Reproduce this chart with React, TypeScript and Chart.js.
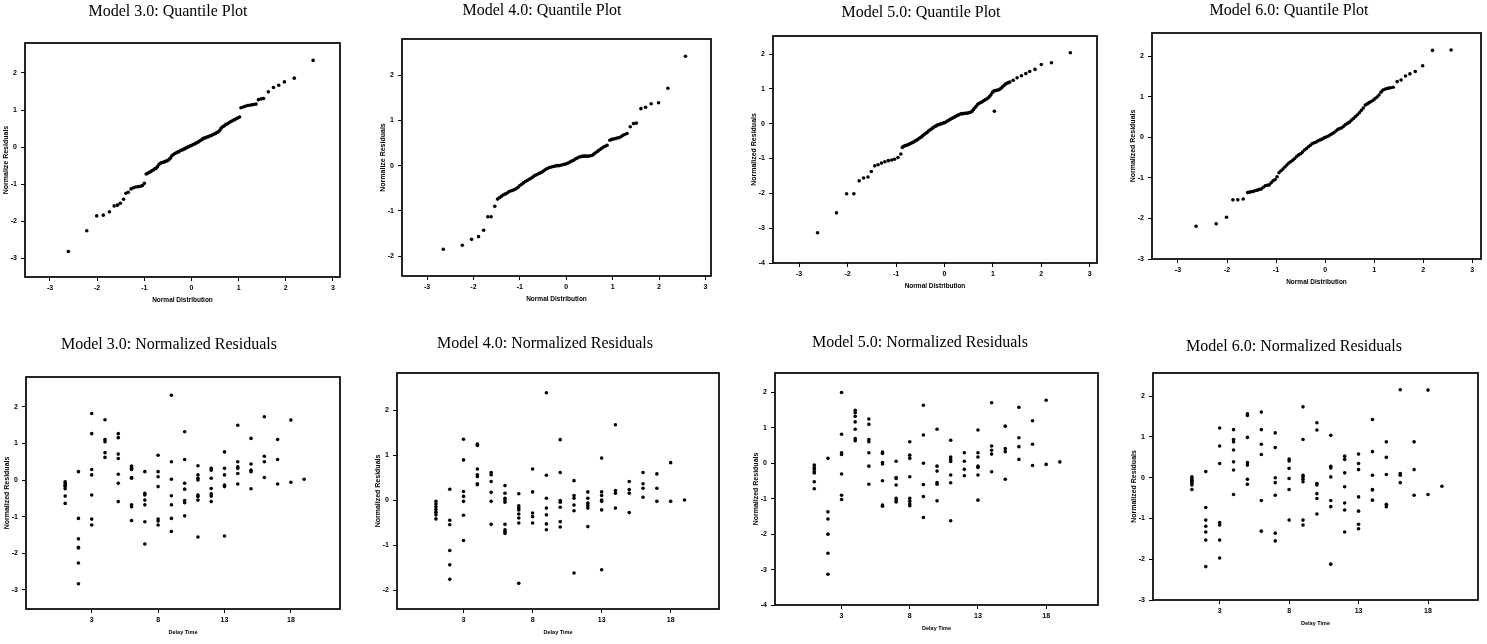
import React, { useEffect, useRef } from "react";
import { Chart, registerables } from "chart.js";

Chart.register(...registerables);

// ---------- DATA ----------
const qqXTicks = [-3, -2, -1, 0, 1, 2, 3];
const delayTicks = [3, 8, 13, 18];
const yTicks3 = [-3, -2, -1, 0, 1, 2];
const yTicks2 = [-2, -1, 0, 1, 2];
const yTicks4 = [-4, -3, -2, -1, 0, 1, 2];

const delayTimes = [1, 2, 3, 4, 5, 6, 7, 8, 9, 10, 11, 12, 13, 14, 15, 16, 17, 18, 19];

// Quantile plots: [normal quantile, normalized residual]
const qqModel3: number[][] = [
  [-2.61, -2.82], [-2.22, -2.26], [-2.01, -1.86], [-1.87, -1.84], [-1.74, -1.75], [-1.64, -1.59], [-1.57, -1.57],
  [-1.51, -1.52], [-1.44, -1.41], [-1.39, -1.25], [-1.34, -1.22], [-1.28, -1.13], [-1.23, -1.10], [-1.18, -1.08],
  [-1.13, -1.07], [-1.08, -1.06], [-1.04, -1.04], [-1.0, -0.98],
  [-0.96, -0.73], [-0.93, -0.71], [-0.9, -0.69], [-0.87, -0.67], [-0.84, -0.64], [-0.81, -0.62], [-0.78, -0.59],
  [-0.75, -0.57], [-0.72, -0.53], [-0.69, -0.47], [-0.66, -0.44], [-0.63, -0.42], [-0.6, -0.41], [-0.57, -0.4],
  [-0.54, -0.38], [-0.51, -0.37], [-0.48, -0.34], [-0.45, -0.3], [-0.42, -0.24], [-0.39, -0.21], [-0.36, -0.18],
  [-0.33, -0.16], [-0.3, -0.14], [-0.27, -0.13], [-0.24, -0.1], [-0.21, -0.08], [-0.18, -0.07], [-0.15, -0.05],
  [-0.12, -0.03], [-0.09, -0.01], [-0.06, 0.01], [-0.03, 0.03], [0.0, 0.04], [0.03, 0.06], [0.06, 0.08],
  [0.09, 0.1], [0.12, 0.12], [0.15, 0.14], [0.18, 0.17], [0.21, 0.19], [0.24, 0.22], [0.27, 0.24], [0.3, 0.25],
  [0.33, 0.27], [0.36, 0.28], [0.39, 0.3], [0.42, 0.31], [0.45, 0.33], [0.48, 0.35], [0.51, 0.37], [0.54, 0.39],
  [0.57, 0.41], [0.6, 0.45], [0.63, 0.51], [0.66, 0.55], [0.69, 0.57], [0.72, 0.6], [0.75, 0.62], [0.78, 0.64],
  [0.81, 0.67], [0.84, 0.69], [0.87, 0.71], [0.9, 0.73], [0.93, 0.75], [0.96, 0.77], [0.99, 0.79], [1.02, 0.81],
  [1.05, 1.06], [1.1, 1.08], [1.14, 1.1], [1.19, 1.12], [1.23, 1.13], [1.28, 1.14], [1.32, 1.15], [1.37, 1.16],
  [1.42, 1.28], [1.48, 1.3], [1.53, 1.31], [1.63, 1.49], [1.74, 1.61], [1.85, 1.67], [1.97, 1.76], [2.18, 1.86],
  [2.58, 2.34],
];

const qqModel4: number[][] = [
  [-2.65, -1.85], [-2.24, -1.76], [-2.04, -1.63], [-1.89, -1.57], [-1.78, -1.43], [-1.69, -1.13], [-1.62, -1.13],
  [-1.54, -0.9],
  [-1.48, -0.74], [-1.44, -0.71], [-1.4, -0.68], [-1.36, -0.65], [-1.32, -0.63], [-1.28, -0.61], [-1.24, -0.58],
  [-1.2, -0.56], [-1.16, -0.55], [-1.12, -0.53], [-1.08, -0.51], [-1.04, -0.48], [-1.0, -0.44], [-0.96, -0.41],
  [-0.92, -0.38], [-0.88, -0.35], [-0.84, -0.33], [-0.8, -0.3], [-0.76, -0.28], [-0.72, -0.25], [-0.68, -0.22],
  [-0.64, -0.2], [-0.6, -0.18], [-0.56, -0.16], [-0.52, -0.14], [-0.48, -0.11], [-0.44, -0.08], [-0.4, -0.06],
  [-0.36, -0.04], [-0.32, -0.03], [-0.28, -0.02], [-0.24, -0.01], [-0.2, 0.0], [-0.16, 0.0], [-0.12, 0.01],
  [-0.08, 0.02], [-0.04, 0.03], [0.0, 0.04], [0.04, 0.06], [0.08, 0.08], [0.12, 0.1], [0.16, 0.12], [0.2, 0.15],
  [0.24, 0.17], [0.28, 0.19], [0.32, 0.2], [0.36, 0.21], [0.4, 0.21], [0.44, 0.21], [0.48, 0.21], [0.52, 0.22],
  [0.56, 0.23], [0.6, 0.26], [0.64, 0.29], [0.68, 0.32], [0.72, 0.35], [0.76, 0.38], [0.8, 0.41], [0.84, 0.43],
  [0.88, 0.45], [0.94, 0.56], [0.98, 0.58], [1.02, 0.59], [1.06, 0.6], [1.1, 0.61], [1.14, 0.62], [1.18, 0.64],
  [1.22, 0.67], [1.26, 0.69], [1.31, 0.71], [1.38, 0.86], [1.45, 0.93], [1.51, 0.94],
  [1.61, 1.26], [1.71, 1.29], [1.83, 1.37], [1.99, 1.39], [2.19, 1.71], [2.57, 2.42],
];

const qqModel5: number[][] = [
  [-2.62, -3.13], [-2.23, -2.56], [-2.02, -2.01], [-1.87, -2.01], [-1.76, -1.64], [-1.67, -1.56], [-1.58, -1.53],
  [-1.51, -1.37], [-1.44, -1.21], [-1.37, -1.18], [-1.3, -1.13], [-1.23, -1.09], [-1.16, -1.06], [-1.09, -1.04],
  [-1.03, -1.02], [-0.96, -0.97], [-0.9, -0.87],
  [-0.87, -0.68], [-0.84, -0.65], [-0.81, -0.63], [-0.78, -0.62], [-0.75, -0.6], [-0.72, -0.58], [-0.69, -0.56],
  [-0.66, -0.54], [-0.63, -0.52], [-0.6, -0.49], [-0.57, -0.47], [-0.54, -0.44], [-0.51, -0.41], [-0.48, -0.38],
  [-0.45, -0.35], [-0.42, -0.31], [-0.39, -0.28], [-0.36, -0.25], [-0.33, -0.21], [-0.3, -0.18], [-0.27, -0.15],
  [-0.24, -0.12], [-0.21, -0.09], [-0.18, -0.07], [-0.15, -0.04], [-0.12, -0.03], [-0.09, -0.01], [-0.06, 0.0],
  [-0.03, 0.02], [0.0, 0.03], [0.03, 0.05], [0.06, 0.08], [0.09, 0.1], [0.12, 0.13], [0.15, 0.15], [0.18, 0.17],
  [0.21, 0.19], [0.24, 0.22], [0.27, 0.24], [0.3, 0.26], [0.33, 0.28], [0.36, 0.29], [0.39, 0.29], [0.42, 0.3],
  [0.45, 0.3], [0.48, 0.31], [0.51, 0.32], [0.54, 0.33], [0.57, 0.36], [0.6, 0.41], [0.63, 0.46], [0.66, 0.51],
  [0.69, 0.56], [0.72, 0.59], [0.75, 0.61], [0.78, 0.63], [0.81, 0.66], [0.84, 0.69], [0.87, 0.71], [0.9, 0.74],
  [0.93, 0.78], [0.96, 0.83], [0.99, 0.9], [1.02, 0.94], [1.03, 0.36], [1.05, 0.95], [1.08, 0.96], [1.11, 0.97],
  [1.14, 0.99], [1.17, 1.02], [1.2, 1.06], [1.23, 1.1], [1.26, 1.14], [1.29, 1.16], [1.32, 1.18], [1.35, 1.2],
  [1.42, 1.25], [1.5, 1.32], [1.59, 1.38], [1.68, 1.44], [1.76, 1.5], [1.87, 1.56], [2.0, 1.7], [2.21, 1.75],
  [2.6, 2.04],
];

const qqModel6: number[][] = [
  [-2.63, -2.19], [-2.22, -2.13], [-2.01, -1.97], [-1.88, -1.54], [-1.78, -1.54], [-1.67, -1.52],
  [-1.58, -1.36], [-1.54, -1.35], [-1.5, -1.34], [-1.46, -1.33], [-1.42, -1.31], [-1.38, -1.3], [-1.34, -1.28],
  [-1.3, -1.27], [-1.26, -1.23], [-1.22, -1.19], [-1.18, -1.18], [-1.14, -1.17], [-1.1, -1.12], [-1.06, -1.07],
  [-1.02, -1.04], [-0.98, -0.97], [-0.94, -0.87], [-0.9, -0.82], [-0.86, -0.78], [-0.82, -0.73], [-0.78, -0.68],
  [-0.74, -0.63], [-0.7, -0.6], [-0.66, -0.56], [-0.62, -0.52], [-0.58, -0.47], [-0.54, -0.43], [-0.5, -0.4],
  [-0.46, -0.36], [-0.42, -0.31], [-0.38, -0.27], [-0.34, -0.23], [-0.3, -0.19], [-0.26, -0.15], [-0.22, -0.13],
  [-0.18, -0.11], [-0.14, -0.08], [-0.1, -0.06], [-0.06, -0.04], [-0.02, -0.01], [0.02, 0.01], [0.06, 0.03],
  [0.1, 0.06], [0.14, 0.09], [0.18, 0.12], [0.22, 0.16], [0.26, 0.2], [0.3, 0.22], [0.34, 0.24], [0.38, 0.28],
  [0.42, 0.32], [0.46, 0.35], [0.5, 0.38], [0.54, 0.43], [0.58, 0.47], [0.62, 0.52], [0.66, 0.56], [0.7, 0.61],
  [0.74, 0.67], [0.78, 0.73], [0.82, 0.8], [0.86, 0.83], [0.9, 0.86], [0.94, 0.89], [0.98, 0.92], [1.02, 0.96],
  [1.06, 1.0], [1.1, 1.05], [1.14, 1.12], [1.18, 1.17], [1.22, 1.19], [1.26, 1.21], [1.3, 1.22], [1.34, 1.23],
  [1.39, 1.24], [1.47, 1.38], [1.55, 1.42], [1.64, 1.52], [1.73, 1.57], [1.84, 1.63], [1.99, 1.77], [2.19, 2.15],
  [2.57, 2.16],
];

// Normalized residuals, one list per delay time (1..19)
const resModel3: number[][] = [
  [-0.05, -0.09, -0.14, -0.18, -0.24, -0.44, -0.64],
  [0.23, -1.05, -1.61, -1.84, -1.86, -2.27, -2.84],
  [1.82, 1.27, 0.29, 0.14, -0.41, -1.07, -1.23],
  [1.65, 1.11, 1.05, 0.75, 0.62],
  [1.27, 1.16, 0.71, 0.59, 0.16, -0.09, -0.59],
  [0.38, 0.32, 0.29, 0.07, 0.05, -0.68, -0.73, -1.11],
  [0.23, -0.36, -0.41, -0.55, -0.68, -1.14, -1.75],
  [0.68, 0.23, 0.09, -0.18, -1.07, -1.12, -1.23],
  [2.32, 0.5, 0.02, -0.43, -0.68, -1.05, -1.41],
  [1.32, 0.56, -0.09, -0.25, -0.56, -0.62, -0.98],
  [0.39, 0.14, 0.05, 0.0, -0.41, -0.45, -0.55, -1.56],
  [0.32, 0.27, 0.05, -0.23, -0.38, -0.44, -0.59],
  [0.77, 0.32, 0.14, -0.14, -0.18, -1.53],
  [1.5, 0.5, 0.36, 0.32, 0.18, -0.11],
  [1.14, 0.44, 0.27, 0.23, -0.24],
  [1.73, 0.65, 0.5, 0.07],
  [1.11, 0.56, -0.11],
  [1.64, -0.06],
  [0.02],
];

const resModel4: number[][] = [
  [-0.02, -0.08, -0.14, -0.2, -0.26, -0.32, -0.41],
  [0.25, -0.44, -0.54, -1.11, -1.43, -1.75],
  [1.36, 0.9, 0.2, 0.09, -0.02, -0.33, -0.89],
  [1.25, 1.22, 0.7, 0.57, 0.53, 0.37, 0.35],
  [0.62, 0.57, 0.42, 0.18, -0.02, -0.53],
  [0.33, 0.16, 0.05, 0.01, -0.04, -0.53, -0.65, -0.69, -0.73],
  [0.15, -0.12, -0.17, -0.21, -0.3, -0.39, -0.5, -1.84],
  [0.7, 0.19, -0.28, -0.36, -0.5],
  [2.39, 0.56, 0.05, -0.17, -0.32, -0.52, -0.65],
  [1.35, 0.62, 0.0, -0.04, -0.15, -0.47, -0.59],
  [0.44, 0.11, 0.05, -0.1, -0.23, -1.61],
  [0.19, 0.05, -0.06, -0.11, -0.17, -0.58],
  [0.94, 0.19, 0.11, 0.01, -0.02, -0.21, -1.54],
  [1.68, 0.22, 0.16, -0.17],
  [0.42, 0.24, 0.16, -0.27],
  [0.62, 0.37, 0.27, 0.07],
  [0.59, 0.27, -0.02],
  [0.84, -0.02],
  [0.01],
];

const resModel5: number[][] = [
  [-0.05, -0.12, -0.17, -0.24, -0.27, -0.52, -0.72],
  [0.14, -1.37, -1.57, -2.0, -2.54, -3.13],
  [2.0, 0.82, 0.3, 0.25, -0.3, -0.9, -1.02],
  [1.5, 1.43, 1.33, 1.17, 0.96, 0.7, 0.64],
  [1.25, 1.1, 0.67, 0.61, 0.3, -0.08, -0.59],
  [0.32, 0.28, 0.02, -0.02, -0.49, -1.18, -1.21],
  [0.06, -0.4, -0.43, -0.61, -0.99, -1.06, -1.09],
  [0.61, 0.23, 0.14, -0.38, -0.99, -1.07, -1.15, -1.2],
  [1.64, 0.8, 0.0, -0.6, -0.94, -1.53],
  [0.96, -0.08, -0.22, -0.54, -0.59, -1.06],
  [0.65, 0.18, 0.11, 0.05, -0.33, -0.55, -1.62],
  [0.3, 0.06, -0.17, -0.35],
  [0.94, 0.3, 0.18, -0.08, -0.12, -0.33, -1.04],
  [1.71, 0.49, 0.37, 0.26, -0.24],
  [1.05, 0.42, 0.33, -0.45],
  [1.58, 0.72, 0.47, 0.11],
  [1.2, 0.54, -0.06],
  [1.78, -0.03],
  [0.04],
];

const resModel6: number[][] = [
  [0.02, -0.02, -0.06, -0.1, -0.14, -0.18, -0.29],
  [0.15, -0.73, -1.04, -1.19, -1.33, -1.53, -2.18],
  [1.22, 0.78, 0.35, -1.1, -1.16, -1.53, -1.97],
  [1.18, 0.94, 0.88, 0.68, 0.39, 0.19, -0.41],
  [1.57, 1.53, 0.99, 0.37, 0.31, -0.04, -0.16],
  [1.61, 1.18, 0.82, 0.57, -0.56, -1.31],
  [1.1, 0.74, 0.0, -0.12, -0.43, -1.36, -1.55],
  [0.46, 0.41, 0.23, -0.02, -0.29, -1.04],
  [1.74, 0.94, 0.06, 0.02, -0.04, -0.1, -1.04, -1.16],
  [1.35, 1.17, -0.14, -0.18, -0.39, -0.51, -0.89],
  [1.04, 0.28, 0.24, 0.02, -0.56, -0.71, -2.12],
  [0.53, 0.45, 0.12, -0.22, -0.62, -0.79, -1.33],
  [0.58, 0.35, 0.2, -0.47, -0.82, -1.14, -1.25],
  [1.43, 0.64, 0.06, -0.29, -0.3, -0.55],
  [0.88, 0.5, 0.08, -0.65, -0.71],
  [2.16, 0.1, 0.06, -0.12],
  [0.88, 0.2, -0.43],
  [2.15, -0.41],
  [-0.21],
];

const titles = [
  "Model 3.0: Quantile Plot",
  "Model 4.0: Quantile Plot",
  "Model 5.0: Quantile Plot",
  "Model 6.0: Quantile Plot",
  "Model 3.0: Normalized Residuals",
  "Model 4.0: Normalized Residuals",
  "Model 5.0: Normalized Residuals",
  "Model 6.0: Normalized Residuals",
];

// ---------- helpers ----------
const fromPairs = (pairs: number[][]) => pairs.map(([x, y]) => ({ x, y }));
const fromColumns = (cols: number[][]) =>
  cols.flatMap((vals, i) => vals.map((y) => ({ x: delayTimes[i], y })));

type PanelCfg = {
  title: string;
  points: { x: number; y: number }[];
  xTitle: string;
  yTitle: string;
  xTicks: number[];
  yTicks: number[];
  xMin: number;
  xMax: number;
  yMin: number;
  yMax: number;
  box: { L: number; T: number; R: number; B: number };
  titleX: number;
  titleY: number;
  xTitleSize: number;
};

const panels: PanelCfg[] = [
  { title: titles[0], points: fromPairs(qqModel3), xTitle: "Normal Distribution", yTitle: "Normalize Residuals", xTicks: qqXTicks, yTicks: yTicks3, xMin: -3.53, xMax: 3.15, yMin: -3.51, yMax: 2.81, box: { L: 25, T: 43, R: 340, B: 277 }, titleX: 168, titleY: 12, xTitleSize: 6.5 },
  { title: titles[1], points: fromPairs(qqModel4), xTitle: "Normal Distribution", yTitle: "Normalize Residuals", xTicks: qqXTicks, yTicks: yTicks2, xMin: -3.54, xMax: 3.12, yMin: -2.44, yMax: 2.8, box: { L: 402, T: 39, R: 711, B: 276 }, titleX: 542, titleY: 11, xTitleSize: 6.5 },
  { title: titles[2], points: fromPairs(qqModel5), xTitle: "Normal Distribution", yTitle: "Normalized Residuals", xTicks: qqXTicks, yTicks: yTicks4, xMin: -3.54, xMax: 3.15, yMin: -4, yMax: 2.52, box: { L: 773, T: 36, R: 1097, B: 263 }, titleX: 921, titleY: 13, xTitleSize: 6.5 },
  { title: titles[3], points: fromPairs(qqModel6), xTitle: "Normal Distribution", yTitle: "Normalized Residuals", xTicks: qqXTicks, yTicks: yTicks3, xMin: -3.53, xMax: 3.18, yMin: -3, yMax: 2.58, box: { L: 1152, T: 33, R: 1481, B: 259 }, titleX: 1289, titleY: 11, xTitleSize: 6.5 },
  { title: titles[4], points: fromColumns(resModel3), xTitle: "Delay Time", yTitle: "Normalized Residuals", xTicks: delayTicks, yTicks: yTicks3, xMin: -1.95, xMax: 21.7, yMin: -3.53, yMax: 2.82, box: { L: 26, T: 377, R: 340, B: 609 }, titleX: 169, titleY: 345, xTitleSize: 5.5 },
  { title: titles[5], points: fromColumns(resModel4), xTitle: "Delay Time", yTitle: "Normalized Residuals", xTicks: delayTicks, yTicks: yTicks2, xMin: -1.82, xMax: 21.5, yMin: -2.41, yMax: 2.83, box: { L: 397, T: 373, R: 719, B: 609 }, titleX: 545, titleY: 344, xTitleSize: 5.5 },
  { title: titles[6], points: fromColumns(resModel5), xTitle: "Delay Time", yTitle: "Normalized Residuals", xTicks: delayTicks, yTicks: yTicks4, xMin: -1.88, xMax: 21.8, yMin: -4, yMax: 2.55, box: { L: 775, T: 373, R: 1098, B: 605 }, titleX: 920, titleY: 343, xTitleSize: 5.5 },
  { title: titles[7], points: fromColumns(resModel6), xTitle: "Delay Time", yTitle: "Normalized Residuals", xTicks: delayTicks, yTicks: yTicks3, xMin: -1.8, xMax: 21.6, yMin: -3, yMax: 2.57, box: { L: 1153, T: 373, R: 1478, B: 600 }, titleX: 1294, titleY: 347, xTitleSize: 5.5 },
];

const YW = 26; // y-axis box width
const XH = 30; // x-axis box height
const PR = 4; // right padding

function Panel({ p }: { p: PanelCfg }) {
  const ref = useRef<HTMLCanvasElement>(null);
  const CL = p.box.L - YW;
  const CT = p.titleY - 14;
  const CW = p.box.R + PR - CL;
  const CH = p.box.B + XH - CT;

  useEffect(() => {
    if (!ref.current) return;
    const framePlugin = {
      id: "frameAndTitle",
      afterDraw(chart: any) {
        const { ctx, chartArea: a } = chart;
        ctx.save();
        ctx.strokeStyle = "#000";
        ctx.lineWidth = 1.7;
        ctx.strokeRect(a.left, a.top, a.right - a.left, a.bottom - a.top);
        ctx.fillStyle = "#000";
        ctx.font = '16px "Liberation Serif", "Times New Roman", serif';
        ctx.textAlign = "center";
        ctx.textBaseline = "middle";
        ctx.fillText(p.title, p.titleX - CL, p.titleY - CT);
        ctx.restore();
      },
    };
    const tickFont = { family: "Liberation Sans, Arial, sans-serif", size: 7, weight: "bold" as const };
    const chart = new Chart(ref.current, {
      type: "scatter",
      data: {
        datasets: [
          {
            data: p.points,
            pointRadius: 1.8,
            pointBackgroundColor: "#000",
            pointBorderColor: "#000",
            pointBorderWidth: 0,
            pointHoverRadius: 1.8,
          },
        ],
      },
      options: {
        responsive: false,
        animation: false,
        events: [],
        layout: { padding: { left: 0, right: PR, top: p.box.T - CT, bottom: 0 } },
        plugins: {
          legend: { display: false },
          tooltip: { enabled: false },
          title: { display: false },
        },
        scales: {
          x: {
            type: "linear",
            position: "bottom",
            min: p.xMin,
            max: p.xMax,
            grid: { drawOnChartArea: false, drawTicks: true, tickLength: 4, color: "#000", lineWidth: 1 },
            border: { display: false },
            ticks: { font: tickFont, color: "#000", padding: 3, maxRotation: 0, autoSkip: false },
            title: {
              display: true,
              text: p.xTitle,
              color: "#000",
              font: { family: "Liberation Sans, Arial, sans-serif", size: p.xTitleSize, weight: "bold" },
              padding: { top: 0, bottom: 3.1 },
            },
            afterBuildTicks: (s: any) => {
              s.ticks = p.xTicks.map((v) => ({ value: v }));
            },
            afterFit: (s: any) => {
              s.height = XH;
            },
          },
          y: {
            type: "linear",
            position: "left",
            min: p.yMin,
            max: p.yMax,
            grid: { drawOnChartArea: false, drawTicks: true, tickLength: 4, color: "#000", lineWidth: 1 },
            border: { display: false },
            ticks: { font: tickFont, color: "#000", padding: 4, autoSkip: false },
            title: {
              display: true,
              text: p.yTitle,
              color: "#000",
              font: { family: "Liberation Sans, Arial, sans-serif", size: 7, weight: "bold" },
              padding: { top: 2.8, bottom: 0 },
            },
            afterBuildTicks: (s: any) => {
              s.ticks = p.yTicks.map((v) => ({ value: v }));
            },
            afterFit: (s: any) => {
              s.width = YW;
            },
          },
        },
      },
      plugins: [framePlugin],
    });
    return () => chart.destroy();
  }, []);

  return (
    <canvas
      ref={ref}
      width={CW}
      height={CH}
      style={{ position: "absolute", left: CL, top: CT, width: CW, height: CH }}
    />
  );
}

export default function App() {
  return (
    <div
      style={{
        position: "absolute",
        left: 0,
        top: 0,
        width: 1487,
        height: 644,
        overflow: "hidden",
        background: "#fff",
      }}
    >
      {panels.map((p, i) => (
        <Panel key={i} p={p} />
      ))}
    </div>
  );
}
